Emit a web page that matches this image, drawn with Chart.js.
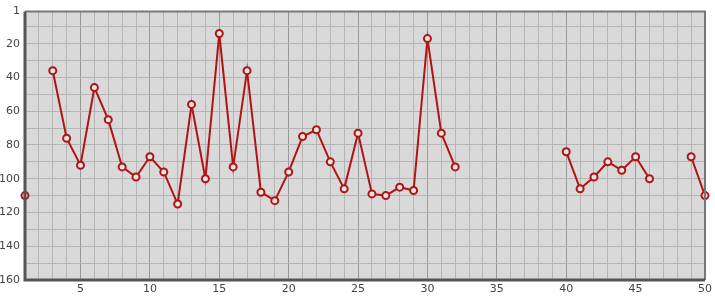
<!DOCTYPE html>
<html>
<head>
<meta charset="utf-8">
<script src="https://cdn.jsdelivr.net/npm/chart.js@4"></script>
<style>
  html, body { margin: 0; padding: 0; background: #ffffff; }
  #wrap { width: 715px; height: 300px; }
</style>
</head>
<body>
<div id="wrap"><canvas id="rankChart"></canvas></div>
<script>
// x positions 1..50, null = no value
const days = [];
for (let i = 1; i <= 50; i++) days.push(i);
const ranks = [
    110, null, 36, 76, 92, 46, 65, 93, 99, 87,
    96, 115, 56, 100, 14, 93, 36, 108, 113, 96,
    75, 71, 90, 106, 73, 109, 110, 105, 107, 17,
    73, 93, null, null, null, null, null, null, null, 84,
    106, 99, 90, 95, 87, 100, null, null, 87, 110
];
const yTicks = [1, 10, 20, 30, 40, 50, 60, 70, 80, 90, 100, 110, 120, 130, 140, 150, 160];
const yLabels = [1, 20, 40, 60, 80, 100, 120, 140, 160];
const xLabels = [5, 10, 15, 20, 25, 30, 35, 40, 45, 50];

document.addEventListener('DOMContentLoaded', function () {
    const ctx = document.getElementById('rankChart').getContext('2d');

    // background and frame of the plot area
    const frame = {
        id: 'frame',
        beforeDraw(chart) {
            const a = chart.chartArea;
            const c = chart.ctx;
            c.save();
            c.fillStyle = '#d9d9d9';
            c.fillRect(a.left, a.top, a.right - a.left, a.bottom - a.top);
            c.restore();
        },
        afterDatasetsDraw(chart) {
            const a = chart.chartArea;
            const c = chart.ctx;
            c.save();
            c.strokeStyle = '#777777';
            c.lineWidth = 2;
            c.beginPath();
            c.moveTo(a.left, a.top);
            c.lineTo(a.right, a.top);
            c.lineTo(a.right, a.bottom);
            c.stroke();
            c.strokeStyle = '#555555';
            c.lineWidth = 3;
            c.beginPath();
            c.moveTo(a.left, a.top);
            c.lineTo(a.left, a.bottom);
            c.lineTo(a.right, a.bottom);
            c.stroke();
            c.restore();
        }
    };

    new Chart(ctx, {
        type: 'line',
        data: {
            labels: days,
            datasets: [{
                data: days.map((d, i) => ({ x: d, y: ranks[i] })),
                borderColor: '#b01414',
                borderWidth: 2,
                pointRadius: 3.5,
                pointBorderWidth: 2,
                pointBackgroundColor: '#e4e4e4',
                pointBorderColor: '#b01414',
                spanGaps: false,
                tension: 0
            }]
        },
        options: {
            responsive: true,
            maintainAspectRatio: false,
            animation: false,
            clip: false,
            layout: { padding: { top: 10, right: 8, left: 0, bottom: 0 } },
            plugins: { legend: { display: false }, tooltip: { enabled: false } },
            scales: {
                x: {
                    type: 'linear',
                    min: 1,
                    max: 50,
                    afterBuildTicks: function (scale) {
                        scale.ticks = days.map(v => ({ value: v }));
                    },
                    afterFit: function (scale) { scale.height = 20; },
                    ticks: {
                        autoSkip: false,
                        maxRotation: 0,
                        padding: 3,
                        color: '#444444',
                        font: { family: 'DejaVu Sans', size: 11 },
                        callback: v => xLabels.includes(v) ? String(v) : ''
                    },
                    grid: {
                        color: c => (c.tick && c.tick.value % 5 === 0) ? '#999999' : '#b4b4b4',
                        lineWidth: 1,
                        drawTicks: false
                    },
                    border: { display: false }
                },
                y: {
                    reverse: true,
                    min: 1,
                    max: 160,
                    afterBuildTicks: function (scale) {
                        scale.ticks = yTicks.map(v => ({ value: v }));
                    },
                    afterFit: function (scale) { scale.width = 25; },
                    ticks: {
                        autoSkip: false,
                        padding: 5,
                        color: '#444444',
                        font: { family: 'DejaVu Sans', size: 11 },
                        callback: v => yLabels.includes(v) ? String(v) : ''
                    },
                    grid: {
                        color: '#b4b4b4',
                        lineWidth: 1,
                        drawTicks: false
                    },
                    border: { display: false }
                }
            }
        },
        plugins: [frame]
    });
});
</script>
</body>
</html>
